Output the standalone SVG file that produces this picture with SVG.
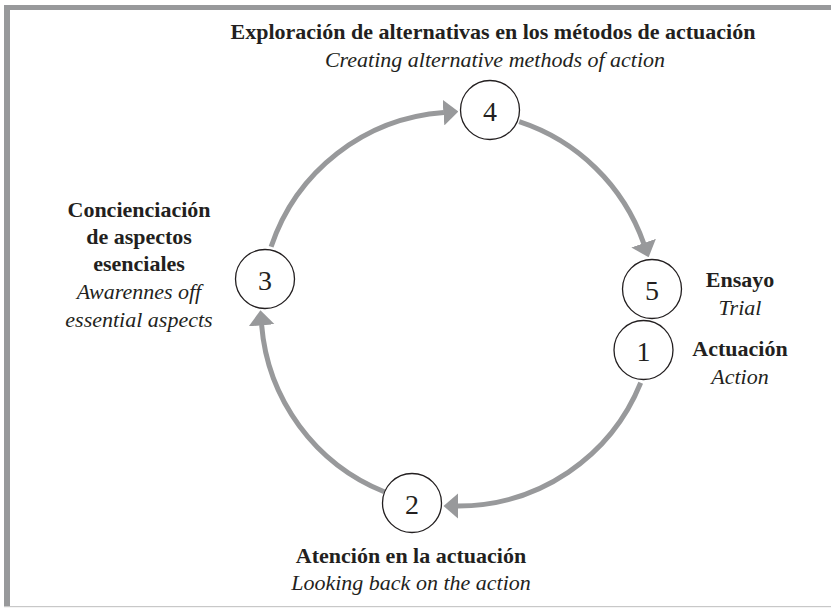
<svg xmlns="http://www.w3.org/2000/svg" width="831" height="609" viewBox="0 0 831 609">
<defs>
<marker id="ah" viewBox="0 0 15 26" refX="0.5" refY="13" markerWidth="15" markerHeight="26" markerUnits="userSpaceOnUse" orient="auto">
<path d="M0,0 L15,13 L0,26 Z" fill="#98999b"/>
</marker>
<style>
text{font-family:"Liberation Serif","DejaVu Serif","Noto Serif",serif;fill:#231f20}
.node circle{fill:#fff;stroke:#231f20;stroke-width:1.3}
.num{font-size:28px;text-anchor:middle}
.b{font-weight:bold;font-size:22px}
.i{font-style:italic;font-size:22px}
.c{text-anchor:middle}
.arc{fill:none;stroke:#98999b;stroke-width:5;marker-end:url(#ah)}
</style>
</defs>
<rect x="0" y="0" width="831" height="609" fill="#fff"/>
<g id="frame">
<rect x="4" y="5" width="827" height="5" fill="#98999b"/>
<rect x="4" y="5" width="6" height="602" fill="#98999b"/>
<rect x="4" y="606" width="827" height="1.2" fill="#c8c8c8"/>
</g>
<g id="connectors">
<path class="arc" d="M271.1,246.8 A197,197 0 0 1 443.9,112.5"/>
<path class="arc" d="M519.2,121.7 A197,197 0 0 1 643.8,243.6"/>
<path class="arc" d="M640.7,382.8 A197,197 0 0 1 458,506"/>
<path class="arc" d="M384.2,491.7 A197,197 0 0 1 261.6,324.8"/>
</g>
<g id="n4" class="node">
<circle cx="490" cy="110" r="29.5"/>
<text class="num" x="490" y="121">4</text>
<text class="b c" x="493" y="39">Exploración de alternativas en los métodos de actuación</text>
<text class="i c" x="495" y="67">Creating alternative methods of action</text>
</g>
<g id="n3" class="node">
<circle cx="265" cy="279" r="29.5"/>
<text class="num" x="265" y="290">3</text>
<text class="b c" x="139" y="217">Concienciación</text>
<text class="b c" x="139" y="244">de aspectos</text>
<text class="b c" x="139" y="271">esenciales</text>
<text class="i c" x="139" y="299">Awarennes off</text>
<text class="i c" x="139" y="327">essential aspects</text>
</g>
<g id="n5" class="node">
<circle cx="652" cy="289" r="29.5"/>
<text class="num" x="652" y="300">5</text>
<text class="b c" x="740" y="287">Ensayo</text>
<text class="i c" x="740" y="315">Trial</text>
</g>
<g id="n1" class="node">
<circle cx="643.5" cy="350" r="29.5"/>
<text class="num" x="643.5" y="361">1</text>
<text class="b c" x="740" y="356">Actuación</text>
<text class="i c" x="740" y="384">Action</text>
</g>
<g id="n2" class="node">
<circle cx="412" cy="503" r="29.5"/>
<text class="num" x="412" y="514">2</text>
<text class="b c" x="411" y="563">Atención en la actuación</text>
<text class="i c" x="411" y="590">Looking back on the action</text>
</g>
</svg>
